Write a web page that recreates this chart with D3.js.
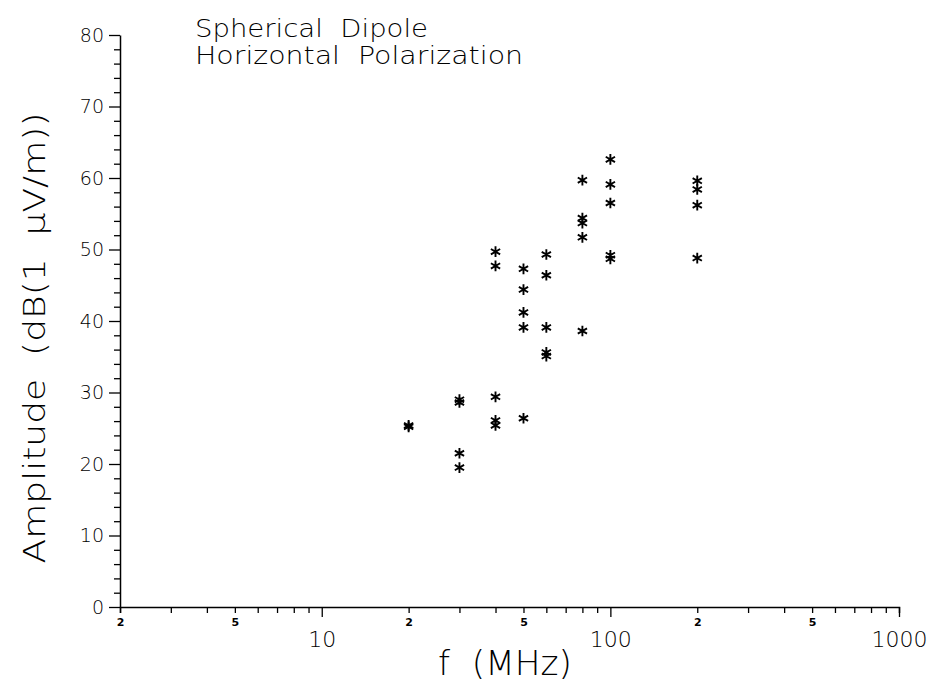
<!DOCTYPE html>
<html>
<head>
<meta charset="utf-8">
<script src="https://cdn.jsdelivr.net/npm/d3@7"></script>
<style>
  body { margin: 0; background: #fff; }
  text { font-family: "DejaVu Sans", sans-serif; fill: #000; white-space: pre; }
  .thin { font-weight: 200; }
</style>
</head>
<body>
<svg width="928" height="684"></svg>
<script>
// Data: frequency (MHz) and amplitude (dB(1 uV/m))
const freq20 = [25.2, 25.4];
const freq30 = [29.0, 28.6, 21.5, 19.5];
const freq40 = [49.7, 47.7, 29.4, 26.1, 25.4];
const freq50 = [47.3, 44.4, 41.2, 39.1, 26.4];
const freq60 = [49.3, 46.4, 39.1, 35.6, 35.1];
const freq80 = [59.7, 54.4, 53.7, 51.7, 38.6];
const freq100 = [62.6, 59.1, 56.5, 49.2, 48.7];
const freq200 = [59.6, 58.4, 56.2, 48.8];

const frequencies = [20, 30, 40, 50, 60, 80, 100, 200];
const amplitudes = [freq20, freq30, freq40, freq50, freq60, freq80, freq100, freq200];

const yTicks = [0, 10, 20, 30, 40, 50, 60, 70, 80];
const xMajor = [10, 100, 1000];
const xMinorLabels = [2, 5, 20, 50, 200, 500];

// flatten into points
const points = [];
frequencies.forEach((f, i) => amplitudes[i].forEach(a => points.push({f: f, a: a})));

const svg = d3.select("svg");

// Scales
const x = d3.scaleLog().domain([2, 1000]).range([120, 899]);
const y = d3.scaleLinear().domain([0, 80]).range([607, 35]);

// minor tick positions on the log axis
const xMinor = [];
[1, 10, 100].forEach(dec => {
  for (let k = 2; k <= 9; k++) {
    const v = k * dec;
    if (v >= 2 && v <= 1000 && !xMajor.includes(v)) xMinor.push(v);
  }
});

// X axis: minor ticks, labelled only with the leading digit 2 or 5
const xMinorAxis = svg.append("g")
  .attr("transform", `translate(0,${y(0)})`)
  .call(d3.axisBottom(x).tickValues(xMinor).tickSizeOuter(0).tickSize(6).tickPadding(5)
    .tickFormat(d => xMinorLabels.includes(d) ? String(d)[0] : ""));
xMinorAxis.selectAll("text")
  .style("font-size", "11px").style("font-weight", "bold");

// X axis: major ticks 10, 100, 1000
const xMajorAxis = svg.append("g")
  .attr("transform", `translate(0,${y(0)})`)
  .call(d3.axisBottom(x).tickValues(xMajor).tickSizeOuter(0).tickSize(10).tickPadding(14)
    .tickFormat(d => d));
xMajorAxis.selectAll("text").attr("class", "thin").style("font-size", "22px");
xMajorAxis.select(".domain").remove();

// Y axis: minor ticks every 2
const yMinorVals = d3.range(0, 81, 2).filter(v => v % 10 !== 0);
svg.append("g")
  .attr("transform", `translate(${x(2)},0)`)
  .call(d3.axisLeft(y).tickValues(yMinorVals).tickSize(6).tickSizeOuter(0).tickFormat(""));

const yAxis = svg.append("g")
  .attr("transform", `translate(${x(2)},0)`)
  .call(d3.axisLeft(y).tickValues(yTicks).tickSize(11).tickSizeOuter(0).tickPadding(5));
yAxis.selectAll("text").attr("class", "thin").style("font-size", "19px");
yAxis.select(".domain").remove();

svg.selectAll(".domain").attr("stroke-width", 1.5);
svg.selectAll(".tick line").attr("stroke-width", 1.3);

// Points (asterisks)
svg.append("g").selectAll("path")
  .data(points)
  .join("path")
  .attr("transform", d => `translate(${x(d.f)},${y(d.a)})`)
  .attr("d", d3.symbol().type(d3.symbolAsterisk).size(80))
  .attr("fill", "none")
  .attr("stroke", "#000")
  .attr("stroke-width", 1.9);

// Title
svg.append("text").attr("class", "thin").attr("x", 195).attr("y", 37)
  .attr("textLength", 233).attr("lengthAdjust", "spacingAndGlyphs")
  .style("font-size", "25px").text("Spherical  Dipole");
svg.append("text").attr("class", "thin").attr("x", 195).attr("y", 64)
  .attr("textLength", 328).attr("lengthAdjust", "spacingAndGlyphs")
  .style("font-size", "25px").text("Horizontal  Polarization");

// Axis labels
svg.append("text").attr("class", "thin")
  .attr("transform", "translate(45,338) rotate(-90)")
  .attr("text-anchor", "middle")
  .attr("textLength", 451).attr("lengthAdjust", "spacingAndGlyphs")
  .style("font-size", "30px")
  .text("Amplitude  (dB(1  \u03BCV/m))");

svg.append("text").attr("class", "thin")
  .attr("x", 438).attr("y", 675)
  .attr("textLength", 134).attr("lengthAdjust", "spacingAndGlyphs")
  .style("font-size", "33px")
  .text("f  (MHz)");
</script>
</body>
</html>
